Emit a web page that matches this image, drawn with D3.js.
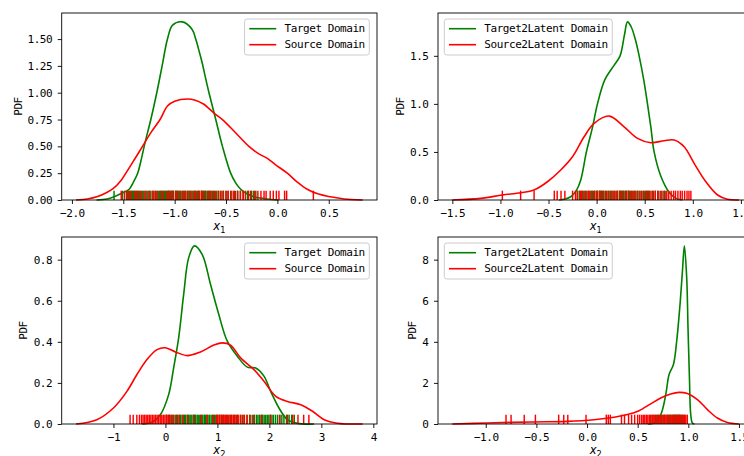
<!DOCTYPE html>
<html><head><meta charset="utf-8">
<script src="https://cdn.jsdelivr.net/npm/d3@7"></script>
<style>
body{margin:0;background:#fff}
svg{display:block}
text{font-family:"DejaVu Sans Mono",monospace;}
</style></head>
<body><svg id="chart" width="744" height="456"></svg>
<script>
// ---------------- DATA ----------------
const legendA = ["Target Domain", "Source Domain"];
const legendB = ["Target2Latent Domain", "Source2Latent Domain"];

// Top-left (x1, original domains)
const tlTargetX = [-1.76,-1.66,-1.589,-1.52,-1.443,-1.40,-1.36,-1.32,-1.29,-1.232,-1.174,-1.122,-1.07,-1.02,-0.924,-0.83,-0.795,-0.76,-0.73,-0.70,-0.666,-0.60,-0.535,-0.455,-0.40,-0.357,-0.30,-0.23,-0.10,0.01];
const tlTargetY = [0,0.01,0.031,0.06,0.10,0.17,0.25,0.40,0.528,0.75,1.0,1.25,1.5,1.63,1.66,1.59,1.5,1.38,1.27,1.14,1.0,0.75,0.5,0.25,0.15,0.10,0.06,0.03,0.01,0];
const tlSourceX = [-1.96,-1.85,-1.75,-1.67,-1.60,-1.52,-1.475,-1.39,-1.313,-1.23,-1.142,-1.07,-1.0,-0.876,-0.80,-0.72,-0.617,-0.535,-0.40,-0.277,-0.18,-0.098,-0.02,0.096,0.19,0.29,0.40,0.517,0.65,0.83];
const tlSourceY = [0,0.01,0.033,0.066,0.105,0.185,0.25,0.38,0.5,0.63,0.75,0.876,0.92,0.941,0.93,0.895,0.81,0.75,0.62,0.5,0.43,0.388,0.33,0.25,0.17,0.10,0.055,0.03,0.01,0];
const tlTargetRug = [-1.59,-1.51,-1.47,-1.45,-1.43,-1.41,-1.40,-1.38,-1.36,-1.35,-1.33,-1.31,-1.30,-1.28,-1.27,-1.25,-1.24,-1.22,-1.21,-1.19,-1.18,-1.16,-1.15,-1.13,-1.12,-1.10,-1.09,-1.07,-1.06,-1.05,-1.03,-1.02,-1.01,-0.99,-0.98,-0.97,-0.96,-0.95,-0.93,-0.92,-0.91,-0.90,-0.89,-0.87,-0.86,-0.85,-0.84,-0.82,-0.81,-0.80,-0.78,-0.77,-0.76,-0.74,-0.73,-0.71,-0.70,-0.68,-0.66,-0.65,-0.63,-0.61,-0.59,-0.57,-0.55,-0.53,-0.50,-0.48,-0.45,-0.42,-0.39,-0.36,-0.33,-0.29,-0.26,-0.23,-0.21];
const tlSourceRug = [-1.52,-1.49,-1.46,-1.44,-1.42,-1.39,-1.37,-1.34,-1.32,-1.29,-1.26,-1.24,-1.21,-1.19,-1.17,-1.14,-1.11,-1.08,-1.06,-1.04,-1.02,-0.99,-0.97,-0.945,-0.92,-0.90,-0.875,-0.85,-0.83,-0.805,-0.79,-0.765,-0.74,-0.72,-0.695,-0.67,-0.645,-0.62,-0.60,-0.575,-0.55,-0.525,-0.50,-0.48,-0.455,-0.43,-0.41,-0.385,-0.36,-0.335,-0.31,-0.28,-0.25,-0.22,-0.19,-0.16,-0.13,-0.11,-0.07,-0.04,-0.01,0.015,0.07,0.09,0.35];
const tlXTicks = [-2.0,-1.5,-1.0,-0.5,0.0,0.5];
const tlYTicks = [0,0.25,0.5,0.75,1.0,1.25,1.5];

// Top-right (x1, latent)
const trTargetX = [-0.39,-0.33,-0.269,-0.21,-0.165,-0.106,-0.043,0.009,0.085,0.181,0.244,0.29,0.321,0.36,0.40,0.442,0.49,0.529,0.565,0.598,0.667,0.754,0.82,0.89];
const trTargetY = [0,0.01,0.034,0.10,0.208,0.5,0.756,1.0,1.25,1.40,1.5,1.72,1.853,1.80,1.68,1.5,1.25,1.0,0.75,0.5,0.25,0.08,0.02,0];
const trSourceX = [-1.5,-1.205,-0.98,-0.789,-0.651,-0.511,-0.373,-0.251,-0.13,-0.026,0.13,0.286,0.425,0.564,0.702,0.806,0.91,1.014,1.136,1.258,1.36,1.48];
const trSourceY = [0,0.017,0.052,0.076,0.104,0.19,0.312,0.45,0.658,0.797,0.873,0.762,0.641,0.596,0.617,0.624,0.554,0.381,0.19,0.052,0.007,0];
const trTargetRug = [-0.20,-0.18,-0.17,-0.15,-0.14,-0.12,-0.11,-0.09,-0.08,-0.06,-0.05,-0.03,-0.02,0.00,0.01,0.03,0.04,0.06,0.07,0.09,0.10,0.12,0.13,0.15,0.16,0.18,0.19,0.21,0.22,0.24,0.25,0.27,0.28,0.30,0.31,0.33,0.34,0.36,0.37,0.39,0.40,0.42,0.43,0.45,0.47,0.49,0.51,0.53,0.55,0.58,0.61,0.64,0.67,0.70,0.72];
const trSourceRug = [-0.98,-0.79,-0.65,-0.44,-0.41,-0.37,-0.33,-0.25,-0.22,-0.20,-0.17,-0.155,-0.13,-0.11,-0.085,-0.07,-0.045,-0.02,0.005,0.03,0.05,0.075,0.10,0.12,0.145,0.17,0.19,0.215,0.24,0.26,0.285,0.31,0.33,0.355,0.38,0.40,0.425,0.45,0.47,0.495,0.52,0.54,0.565,0.59,0.61,0.635,0.66,0.68,0.705,0.73,0.75,0.775,0.80,0.82,0.845,0.87,0.89,0.915,0.94,0.96,0.98];
const trXTicks = [-1.5,-1.0,-0.5,0.0,0.5,1.0,1.5];
const trYTicks = [0,0.5,1.0,1.5];

// Bottom-left (x2, original domains)
const blTargetX = [-0.45,-0.25,-0.098,0.062,0.158,0.255,0.351,0.448,0.558,0.706,0.867,1.027,1.19,1.382,1.575,1.736,1.896,2.025,2.185,2.347,2.54,2.86];
const blTargetY = [0,0.01,0.045,0.143,0.273,0.42,0.631,0.81,0.867,0.826,0.68,0.533,0.403,0.33,0.277,0.273,0.233,0.159,0.078,0.021,0.003,0];
const blSourceX = [-1.72,-1.32,-1.0,-0.741,-0.548,-0.355,-0.162,-0.002,0.191,0.417,0.674,0.931,1.093,1.253,1.446,1.703,1.896,2.122,2.347,2.604,2.83,3.054,3.31,3.795];
const blSourceY = [0,0.021,0.078,0.159,0.241,0.314,0.362,0.371,0.351,0.333,0.351,0.384,0.395,0.384,0.322,0.265,0.208,0.135,0.11,0.094,0.062,0.021,0.004,0];
const blTargetRug = [0.02,0.06,0.09,0.13,0.16,0.20,0.23,0.26,0.29,0.32,0.34,0.37,0.39,0.42,0.44,0.47,0.49,0.51,0.54,0.56,0.58,0.61,0.63,0.65,0.68,0.70,0.72,0.75,0.77,0.80,0.82,0.85,0.88,0.91,0.94,0.97,1.00,1.04,1.08,1.12,1.17,1.22,1.27,1.33,1.39,1.45,1.51,1.57,1.62,1.67,1.71,1.75,1.78,1.81,1.84,1.87,1.90,1.93,1.96,1.99,2.02,2.05,2.08,2.12,2.16,2.20,2.24,2.28,2.33,2.38,2.43,2.48];
const blSourceRug = [-0.68,-0.62,-0.55,-0.50,-0.46,-0.43,-0.40,-0.37,-0.34,-0.31,-0.28,-0.25,-0.22,-0.19,-0.16,-0.13,-0.10,-0.07,-0.04,-0.01,0.02,0.05,0.08,0.12,0.16,0.21,0.27,0.34,0.43,0.55,0.68,0.80,0.92,0.98,1.01,1.04,1.07,1.10,1.13,1.16,1.19,1.22,1.25,1.28,1.31,1.34,1.37,1.40,1.44,1.48,1.52,1.57,1.63,1.70,1.85,2.02,2.20,2.35,2.45,2.55,2.66,2.76];
const blXTicks = [-1,0,1,2,3,4];
const blYTicks = [0,0.2,0.4,0.6,0.8];

// Bottom-right (x2, latent)
const brTargetX = [0.60,0.661,0.727,0.777,0.81,0.853,0.885,0.918,0.942,0.961,0.984,0.997,1.011,1.024,1.04,1.06];
const brTargetY = [0,0.05,0.45,1.43,2.41,2.9,4.03,5.82,7.45,8.67,7.12,4.68,2.24,0.45,0.05,0];
const brSourceX = [-1.33,-0.983,-0.556,-0.194,0.069,0.267,0.399,0.513,0.629,0.727,0.826,0.908,0.991,1.09,1.189,1.287,1.386,1.5];
const brSourceY = [0,0.05,0.10,0.13,0.21,0.33,0.46,0.65,0.98,1.27,1.46,1.54,1.48,1.19,0.70,0.29,0.07,0];
const brTargetRug = [0.63,0.65,0.67,0.69,0.70,0.72,0.73,0.75,0.76,0.77,0.79,0.80,0.81,0.82,0.83,0.845,0.855,0.865,0.875,0.885,0.895,0.905,0.915,0.925,0.935,0.945,0.955,0.965];
const brSourceRug = [-0.80,-0.75,-0.62,-0.51,-0.28,-0.23,-0.19,-0.01,0.19,0.21,0.23,0.34,0.37,0.41,0.44,0.47,0.50,0.52,0.54,0.555,0.57,0.585,0.60,0.615,0.63,0.645,0.66,0.675,0.69,0.705,0.72,0.735,0.75,0.765,0.78,0.795,0.81,0.825,0.84,0.855,0.87,0.885,0.90,0.915,0.93,0.945,0.96,0.975,0.99];
const brXTicks = [-1.0,-0.5,0.0,0.5,1.0,1.5];
const brYTicks = [0,2,4,6,8];

// ---------------- LAYOUT ----------------
const GREEN = "#008000", RED = "#ff0000";
const svg = d3.select("#chart");
const AW = 315.3, AH = 187;
const panels = [
  {x0:61.7, y0:13, tX:tlTargetX, tY:tlTargetY, sX:tlSourceX, sY:tlSourceY, tR:tlTargetRug, sR:tlSourceRug, names:legendA, xt:tlXTicks, yt:tlYTicks, xf:d3.format(".1f"), yf:d3.format(".2f"), sub:"1", legRight:true},
  {x0:438, y0:13, tX:trTargetX, tY:trTargetY, sX:trSourceX, sY:trSourceY, tR:trTargetRug, sR:trSourceRug, names:legendB, xt:trXTicks, yt:trYTicks, xf:d3.format(".1f"), yf:d3.format(".1f"), sub:"1", legRight:false},
  {x0:61.7, y0:237, tX:blTargetX, tY:blTargetY, sX:blSourceX, sY:blSourceY, tR:blTargetRug, sR:blSourceRug, names:legendA, xt:blXTicks, yt:blYTicks, xf:d3.format("d"), yf:d3.format(".1f"), sub:"2", legRight:true},
  {x0:438, y0:237, tX:brTargetX, tY:brTargetY, sX:brSourceX, sY:brSourceY, tR:brTargetRug, sR:brSourceRug, names:legendB, xt:brXTicks, yt:brYTicks, xf:d3.format(".1f"), yf:d3.format("d"), sub:"2", legRight:false}
];

const FS = 11, LS = -0.45;

panels.forEach(p => {
  const g = svg.append("g").attr("transform", `translate(${p.x0},${p.y0})`);
  const allX = p.tX.concat(p.sX, p.tR, p.sR);
  const [xmin, xmax] = d3.extent(allX);
  const pad = (xmax - xmin) * 0.05;
  const x = d3.scaleLinear().domain([xmin - pad, xmax + pad]).range([0, AW]);
  const ymax = d3.max(p.tY.concat(p.sY)) * 1.05;
  const y = d3.scaleLinear().domain([0, ymax]).range([AH, 0]);

  const line = d3.line().x(d => x(d[0])).y(d => Math.min(AH, y(d[1]))).curve(d3.curveCatmullRom.alpha(0.5));
  const rugH = AH * 0.05;

  function drawSeries(xs, ys, rug, color) {
    g.append("path").datum(d3.zip(xs, ys)).attr("d", line)
      .attr("fill", "none").attr("stroke", color).attr("stroke-width", 1.6)
      .attr("stroke-linejoin", "round");
    g.append("g").selectAll("line").data(rug).join("line")
      .attr("x1", d => x(d)).attr("x2", d => x(d))
      .attr("y1", AH).attr("y2", AH - rugH)
      .attr("stroke", color).attr("stroke-width", 1.45);
  }
  drawSeries(p.tX, p.tY, p.tR, GREEN);
  drawSeries(p.sX, p.sY, p.sR, RED);

  // spines
  g.append("rect").attr("x", 0).attr("y", 0).attr("width", AW).attr("height", AH)
    .attr("fill", "none").attr("stroke", "#000").attr("stroke-width", 0.9);

  // axes
  const xa = g.append("g").attr("transform", `translate(0,${AH})`)
    .call(d3.axisBottom(x).tickValues(p.xt).tickFormat(p.xf).tickSizeInner(4).tickSizeOuter(0).tickPadding(4.9));
  const ya = g.append("g")
    .call(d3.axisLeft(y).tickValues(p.yt).tickFormat(p.yf).tickSizeInner(4).tickSizeOuter(0).tickPadding(5.5));
  [xa, ya].forEach(a => {
    a.select(".domain").remove();
    a.selectAll("line").attr("stroke", "#000").attr("stroke-width", 0.9);
    a.selectAll("text").attr("fill", "#000").style("font-family", '"DejaVu Sans Mono",monospace')
      .style("font-size", FS + "px").style("letter-spacing", LS + "px");
  });
  xa.attr("font-family", null).attr("font-size", null);
  ya.attr("font-family", null).attr("font-size", null);

  // y label
  let maxW = 0;
  ya.selectAll("text").each(function(){ maxW = Math.max(maxW, this.getBBox().width); });
  const ylx = -9.5 - maxW - 9.4;
  g.append("text").attr("transform", `translate(${ylx},${AH/2}) rotate(-90)`)
    .attr("text-anchor", "middle").attr("dominant-baseline", "central")
    .style("font-size", FS + "px").style("letter-spacing", LS + "px").text("PDF");

  // x label
  const xl = g.append("text").attr("x", AW/2).attr("y", AH + 30).attr("text-anchor", "middle");
  xl.append("tspan").style("font-family", '"DejaVu Sans",sans-serif').style("font-style", "italic")
    .style("font-size", "11.5px").text("x");
  xl.append("tspan").style("font-family", '"DejaVu Sans",sans-serif').style("font-size", "8.2px")
    .attr("dy", 2.6).text(p.sub);

  // legend
  const lg = g.append("g");
  const frame = lg.append("rect");
  const items = [[p.names[0], GREEN], [p.names[1], RED]];
  let tw = 0;
  items.forEach((it, i) => {
    const yy = 9.7 + i * 16;
    lg.append("line").attr("x1", 4.7).attr("x2", 31.7).attr("y1", yy).attr("y2", yy)
      .attr("stroke", it[1]).attr("stroke-width", 1.6);
    const t = lg.append("text").attr("x", 40).attr("y", yy).attr("dominant-baseline", "central")
      .style("font-size", FS + "px").style("letter-spacing", LS + "px").attr("fill", "#000").text(it[0]);
    tw = Math.max(tw, t.node().getComputedTextLength());
  });
  const lw = 40 + tw + 4.5;
  const lh = 36;
  frame.attr("x", 0).attr("y", 0).attr("width", lw).attr("height", lh).attr("rx", 2.5)
    .attr("fill", "#fff").attr("fill-opacity", 0.8).attr("stroke", "#cccccc").attr("stroke-width", 1);
  const lx = p.legRight ? AW - 7.7 - lw : 6.3;
  lg.attr("transform", `translate(${lx},6)`);
});
</script>
</body></html>
